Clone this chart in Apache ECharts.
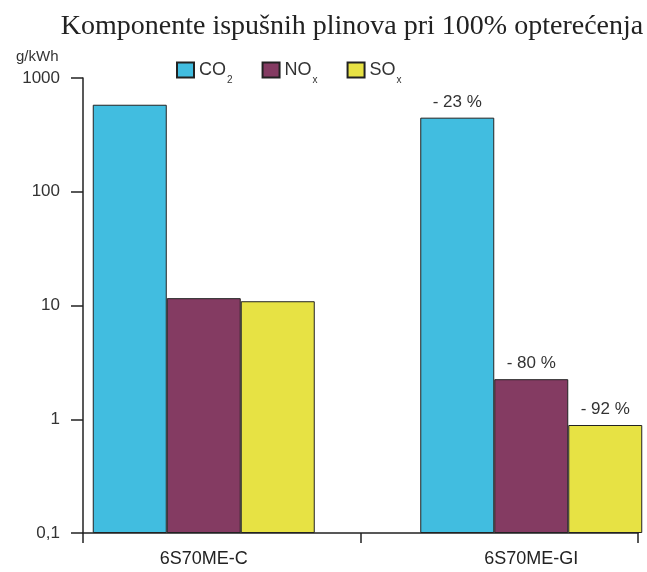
<!DOCTYPE html>
<html>
<head>
<meta charset="utf-8">
<script src="https://cdn.jsdelivr.net/npm/echarts@6/dist/echarts.min.js"></script>
<style>
html,body{margin:0;padding:0;background:#fff;}
#chart{width:647px;height:572px;}
</style>
</head>
<body>
<div id="chart"></div>
<script>
// ---- data ----
const categories = ['6S70ME-C', '6S70ME-GI'];
const seriesBase = ['CO', 'NO', 'SO'];
const seriesSub = ['2', 'x', 'x'];
const co2Values = [582, 448];
const noxValues = [11.6, 2.25];
const soxValues = [10.9, 0.89];
const co2Labels = ['', '- 23 %'];
const noxLabels = ['', '- 80 %'];
const soxLabels = ['', '- 92 %'];
const yTickValues = [0.1, 1, 10, 100, 1000];
const yTickLabels = ['0,1', '1', '10', '100', '1000'];
const titleText = 'Komponente ispušnih plinova pri 100% opterećenja';
const unitText = 'g/kWh';

const colors = ['#41bde0', '#843b62', '#e7e244'];
const seriesNames = seriesBase.map((b, i) => b + seriesSub[i]);
const valueSets = [co2Values, noxValues, soxValues];
const labelSets = [co2Labels, noxLabels, soxLabels];

const chart = echarts.init(document.getElementById('chart'), null, {renderer: 'canvas'});

function yLabel(v) {
  const i = yTickValues.findIndex(t => Math.abs(Math.log10(t) - Math.log10(v)) < 1e-6);
  return i >= 0 ? yTickLabels[i] : '';
}

const option = {
  backgroundColor: '#fff',
  animation: false,
  title: [
    {text: titleText, left: 352, textAlign: 'center', top: 13, padding: 0,
     textStyle: {fontFamily: 'Liberation Serif', fontSize: 28, fontWeight: 'normal', color: '#222'}},
    {text: unitText, left: 16, top: 49, padding: 0,
     textStyle: {fontFamily: 'Liberation Sans', fontSize: 15, fontWeight: 'normal', color: '#333'}}
  ],
  legend: {
    left: 176, top: 61, padding: 0,
    itemWidth: 17, itemHeight: 15, itemGap: 29,
    icon: 'rect',
    data: seriesNames,
    formatter: function (name) {
      const i = seriesNames.indexOf(name);
      return '{a|' + seriesBase[i] + '}{s|' + seriesSub[i] + '}';
    },
    textStyle: {
      fontFamily: 'Liberation Sans', color: '#333',
      rich: {
        a: {fontSize: 18, fontFamily: 'Liberation Sans', color: '#333', lineHeight: 22, verticalAlign: 'middle'},
        s: {fontSize: 10, fontFamily: 'Liberation Sans', color: '#333', lineHeight: 22, verticalAlign: 'bottom', padding: [0, 0, -4, 1]}
      }
    }
  },
  grid: [
    {left: 83, top: 78, width: 555, height: 455, outerBoundsMode: 'none'},
    {left: 40, top: 78, width: 655, height: 455, outerBoundsMode: 'none'}
  ],
  xAxis: [
    {type: 'category', gridIndex: 0, data: categories, boundaryGap: true,
     axisLine: {lineStyle: {color: '#222', width: 1.5}},
     axisTick: {show: true, length: 10, alignWithLabel: false, lineStyle: {color: '#222', width: 1.5}},
     axisLabel: {show: false}},
    {type: 'category', gridIndex: 1, data: categories, boundaryGap: true,
     axisLine: {show: false}, axisTick: {show: false},
     axisLabel: {show: true, fontFamily: 'Liberation Sans', fontSize: 18, color: '#222', margin: 17}}
  ],
  yAxis: [
    {type: 'log', gridIndex: 0, logBase: 10, min: 0.1, max: 1000,
     axisLine: {show: true, lineStyle: {color: '#222', width: 1.5}},
     axisTick: {show: true, length: 12, lineStyle: {color: '#222', width: 1.5}},
     splitLine: {show: false},
     axisLabel: {fontFamily: 'Liberation Sans', fontSize: 17, color: '#333', margin: 23, formatter: yLabel}},
    {type: 'log', gridIndex: 1, logBase: 10, min: 0.1, max: 1000, startValue: 0.1, show: false}
  ],
  series: seriesNames.map((name, i) => ({
    name: name,
    type: 'bar',
    xAxisIndex: 1, yAxisIndex: 1,
    barWidth: 74, barGap: '0%',
    clip: false,
    data: valueSets[i],
    itemStyle: {color: colors[i], borderColor: '#222', borderWidth: 1},
    label: {show: true, position: 'top', distance: 7, fontFamily: 'Liberation Sans', fontSize: 17, color: '#333',
            formatter: p => labelSets[i][p.dataIndex] || ''}
  }))
};
chart.setOption(option);
</script>
</body>
</html>
